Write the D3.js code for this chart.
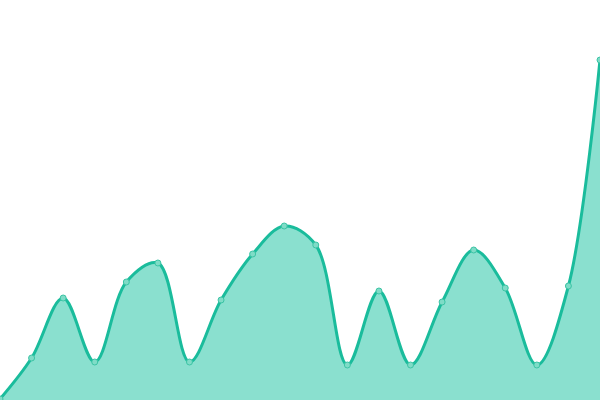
<!DOCTYPE html>
<html>
<head>
<meta charset="utf-8">
<script src="https://cdn.jsdelivr.net/npm/d3@7"></script>
<style>
  html, body { margin: 0; padding: 0; background: #ffffff; }
  svg { display: block; }
</style>
</head>
<body>
<svg id="chart" width="600" height="400"></svg>
<script>
const categories = ["1","2","3","4","5","6","7","8","9","10","11","12","13","14","15","16","17","18","19","20"];
const values = [1, 42, 102, 38, 118, 137, 38, 100, 146, 174, 155, 35, 109, 35, 98, 150, 112, 35, 114, 340];
const yDomain = [0, 400];

const W = 600, H = 400;
const svg = d3.select("#chart");
const x = d3.scalePoint().domain(categories).range([0, W]).padding(0);
const y = d3.scaleLinear().domain(yDomain).range([H, 0]);
const data = categories.map((c, i) => ({ c, v: values[i] }));
const curve = d3.curveCatmullRom.alpha(0.5);

svg.append("path")
  .datum(data)
  .attr("fill", "#8ae0cf")
  .attr("d", d3.area().x(d => x(d.c)).y0(H).y1(d => y(d.v)).curve(curve));

svg.append("path")
  .datum(data)
  .attr("fill", "none")
  .attr("stroke", "#1abc9c")
  .attr("stroke-width", 3)
  .attr("d", d3.line().x(d => x(d.c)).y(d => y(d.v)).curve(curve));

svg.selectAll("circle.pt")
  .data(data)
  .enter().append("circle")
  .attr("class", "pt")
  .attr("cx", d => x(d.c))
  .attr("cy", d => y(d.v))
  .attr("r", 3)
  .attr("fill", "#7fdcc7")
  .attr("stroke", "#3cc4a5")
  .attr("stroke-width", 1);
</script>
</body>
</html>
